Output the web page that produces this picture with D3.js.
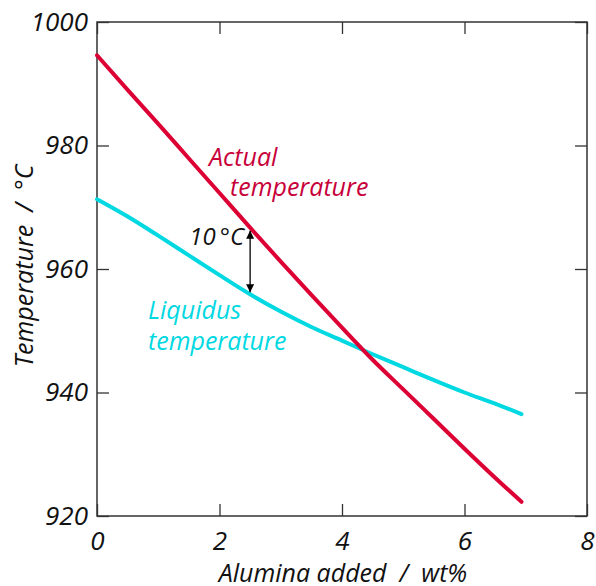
<!DOCTYPE html>
<html>
<head>
<meta charset="utf-8">
<script src="https://cdn.jsdelivr.net/npm/d3@7"></script>
<style>
  body { margin: 0; background: #fff; }
  text { font-family: "Open Sans", "Noto Sans", sans-serif; font-style: italic; }
</style>
</head>
<body>
<div id="chart"></div>
<script>
// data
var aluminaX = [0, 0.5, 1, 1.5, 2, 2.5, 3, 3.5, 4, 4.5, 5, 5.5, 6, 6.5, 6.93];
var actualTemp = [994.6, 989.0, 983.5, 977.9, 972.3, 966.7, 961.2, 955.8, 950.5, 945.3, 940.5, 935.7, 930.9, 926.2, 922.3];
var liquidusTemp = [971.3, 968.5, 965.4, 962.2, 959.0, 955.9, 953.1, 950.6, 948.4, 946.2, 944.1, 942.0, 940.0, 938.2, 936.5];
var xTicks = [0, 2, 4, 6, 8];
var yTicks = [920, 940, 960, 980, 1000];
var gapAt = 2.5; // where the 10 °C arrow sits

var width = 596, height = 586;
var margin = { top: 22, right: 9, bottom: 70, left: 97 };
var redColor = "#dc0035", cyanColor = "#00d8e2";

var x = d3.scaleLinear().domain([0, 8]).range([margin.left, width - margin.right]);
var y = d3.scaleLinear().domain([920, 1000]).range([height - margin.bottom, margin.top]);

var svg = d3.select("#chart").append("svg")
    .attr("width", width)
    .attr("height", height);

// frame
svg.append("rect")
    .attr("x", x(0)).attr("y", y(1000))
    .attr("width", x(8) - x(0)).attr("height", y(920) - y(1000))
    .attr("fill", "none").attr("stroke", "#333").attr("stroke-width", 1.5);

// inward ticks on all four sides
var tickLen = 12;
var bottomAxis = d3.axisBottom(x).tickValues(xTicks).tickSize(-tickLen).tickFormat(d3.format("d")).tickPadding(16);
var topAxis = d3.axisTop(x).tickValues(xTicks).tickSize(-tickLen).tickFormat("");
var leftAxis = d3.axisLeft(y).tickValues(yTicks).tickSize(-tickLen).tickFormat(d3.format("d")).tickPadding(9);
var rightAxis = d3.axisRight(y).tickValues(yTicks).tickSize(-tickLen).tickFormat("");

function styleAxis(g) {
    g.select(".domain").remove();
    g.attr("font-family", null).attr("font-size", null);
    g.selectAll(".tick line").attr("stroke", "#333").attr("stroke-width", 1.3);
    g.selectAll(".tick text").attr("fill", "#111").style("font-size", "26px");
}
svg.append("g").attr("transform", "translate(0," + y(920) + ")").call(bottomAxis).call(styleAxis);
svg.append("g").attr("transform", "translate(0," + y(1000) + ")").call(topAxis).call(styleAxis);
svg.append("g").attr("transform", "translate(" + x(0) + ",0)").call(leftAxis).call(styleAxis);
svg.append("g").attr("transform", "translate(" + x(8) + ",0)").call(rightAxis).call(styleAxis);

// curves
var line = d3.line()
    .x(function (d) { return x(d[0]); })
    .y(function (d) { return y(d[1]); })
    .curve(d3.curveMonotoneX);

svg.append("path")
    .datum(d3.zip(aluminaX, liquidusTemp))
    .attr("d", line)
    .attr("fill", "none").attr("stroke", cyanColor)
    .attr("stroke-width", 4).attr("stroke-linecap", "round");

svg.append("path")
    .datum(d3.zip(aluminaX, actualTemp))
    .attr("d", line)
    .attr("fill", "none").attr("stroke", redColor)
    .attr("stroke-width", 4).attr("stroke-linecap", "round");

// 10 °C arrow
var defs = svg.append("defs");
defs.append("marker")
    .attr("id", "head")
    .attr("viewBox", "0 0 10 10")
    .attr("refX", 10).attr("refY", 5)
    .attr("markerWidth", 8).attr("markerHeight", 8)
    .attr("markerUnits", "userSpaceOnUse")
    .attr("orient", "auto-start-reverse")
    .append("path").attr("d", "M0,0 L10,5 L0,10 Z").attr("fill", "#000");

var iGap = aluminaX.indexOf(gapAt);
svg.append("line")
    .attr("x1", x(gapAt)).attr("x2", x(gapAt))
    .attr("y1", y(actualTemp[iGap]) + 3).attr("y2", y(liquidusTemp[iGap]) - 2)
    .attr("stroke", "#000").attr("stroke-width", 1.3)
    .attr("marker-start", "url(#head)").attr("marker-end", "url(#head)");

svg.append("text")
    .attr("x", x(gapAt) - 6).attr("y", y(actualTemp[iGap]) + 17)
    .attr("text-anchor", "end")
    .style("font-size", "24px").attr("fill", "#111")
    .text("10\u2009°C");

// series labels
var labels = [
    { lines: ["Actual", "temperature"], x: [209, 230], y: [166, 196], color: "#c8003a" },
    { lines: ["Liquidus", "temperature"], x: [148, 148], y: [319, 350], color: cyanColor }
];
labels.forEach(function (l) {
    l.lines.forEach(function (t, i) {
        svg.append("text")
            .attr("x", l.x[i]).attr("y", l.y[i])
            .style("font-size", "25px").attr("fill", l.color)
            .text(t);
    });
});

// axis titles
svg.append("text")
    .attr("x", (x(0) + x(8)) / 2 + 1).attr("y", 582)
    .attr("text-anchor", "middle")
    .style("font-size", "25px").attr("fill", "#111")
    .attr("xml:space", "preserve")
    .text("Alumina added  /  wt%");

svg.append("text")
    .attr("transform", "translate(33," + (y(960) - 3) + ") rotate(-90)")
    .attr("text-anchor", "middle")
    .style("font-size", "25px").attr("fill", "#111")
    .attr("xml:space", "preserve")
    .text("Temperature  /  °C");
</script>
</body>
</html>
